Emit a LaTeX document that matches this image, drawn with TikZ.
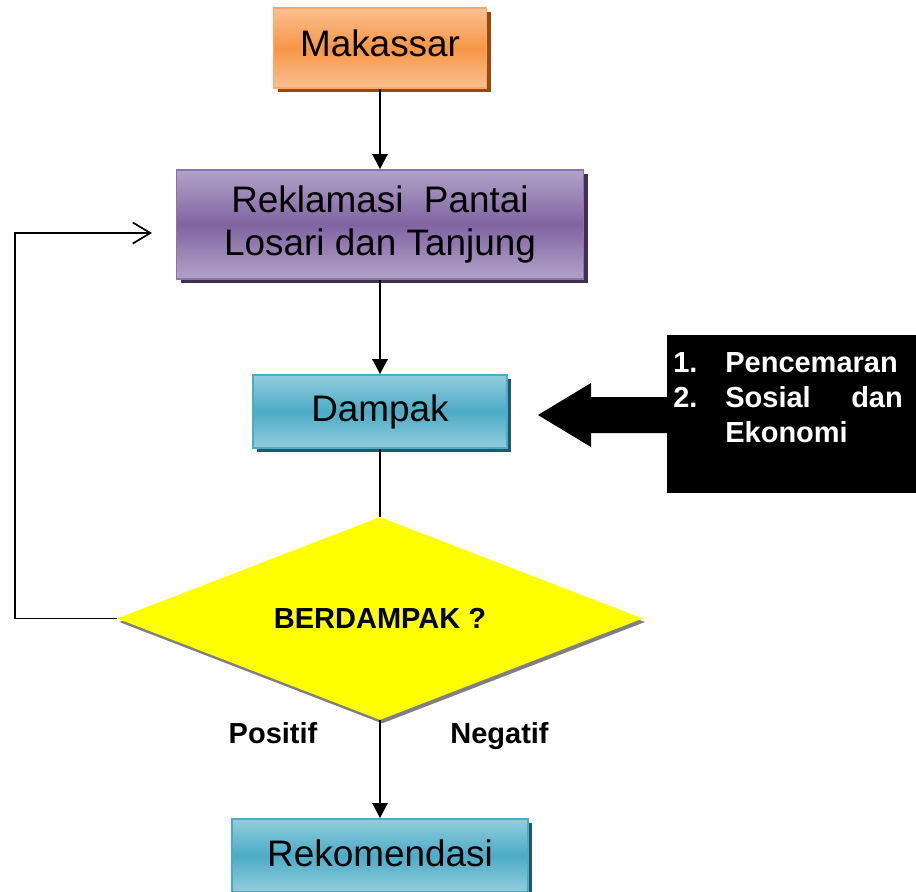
\documentclass[tikz,border=0pt]{standalone}
\usepackage{fontspec}
\setmainfont{Liberation Sans}
\usetikzlibrary{shapes.geometric,shadows,arrows.meta}

\definecolor{oranyeTua}{HTML}{F79646}
\definecolor{oranyeMuda}{HTML}{FAC090}
\definecolor{oranyeGaris}{HTML}{F9A865}
\definecolor{oranyeBayang}{HTML}{984807}
\definecolor{unguTua}{HTML}{8064A2}
\definecolor{unguMuda}{HTML}{B3A2C7}
\definecolor{unguGaris}{HTML}{8D73AE}
\definecolor{unguBayang}{HTML}{3F3151}
\definecolor{biruTua}{HTML}{4BACC6}
\definecolor{biruMuda}{HTML}{93CDDD}
\definecolor{biruGaris}{HTML}{4BACC6}
\definecolor{biruBayang}{HTML}{215968}
\definecolor{kuning}{HTML}{FFFF00}

\tikzset{
  kotak/.style={rectangle, line width=1pt, inner sep=0pt, align=center,
    font=\fontsize{21}{24.5}\selectfont},
  kotakoranye/.style={kotak, draw=oranyeGaris, top color=oranyeMuda,
    bottom color=oranyeMuda, middle color=oranyeTua,
    drop shadow={shadow xshift=2.3pt, shadow yshift=-2.3pt, fill=oranyeBayang, opacity=1}},
  kotakungu/.style={kotak, draw=unguGaris, top color=unguMuda,
    bottom color=unguMuda, middle color=unguTua,
    drop shadow={shadow xshift=2.3pt, shadow yshift=-2.3pt, fill=unguBayang, opacity=1}},
  kotakbiru/.style={kotak, draw=biruGaris, top color=biruMuda,
    bottom color=biruMuda, middle color=biruTua,
    drop shadow={shadow xshift=2.3pt, shadow yshift=-2.3pt, fill=biruBayang, opacity=1}},
  keputusan/.style={diamond, aspect=2.6, fill=kuning, inner sep=0pt,
    minimum width=10.52cm, minimum height=4.06cm,
    font=\fontsize{16.5}{20}\bfseries\selectfont,
    drop shadow={shadow xshift=1.2pt, shadow yshift=-2pt, fill=black!50, opacity=1}},
  label/.style={font=\fontsize{16.5}{20}\bfseries\selectfont, inner sep=0pt},
  panah/.style={line width=1.4pt, -{Triangle[length=8.5pt,width=8.5pt]}},
  garis/.style={line width=1pt},
  balikpanah/.style={line width=1pt, -{Straight Barb[length=10pt,width=12pt,line width=1pt]}}
}

\begin{document}
\begin{tikzpicture}[x=0.02cm, y=-0.02cm]
  \clip (0,0) rectangle (916,892);

  % Draw boxes
  \node[kotakoranye, text depth=5.6pt, minimum width=4.26cm, minimum height=1.6cm] (mak) at (380,48) {Makassar};
  \node[kotakungu, minimum width=8.14cm, minimum height=2.18cm] (rek) at (380,224.5)
    {Reklamasi\ \ Pantai\\Losari dan Tanjung};
  \node[kotakbiru, minimum width=5.08cm, minimum height=1.46cm] (dam) at (380,411.5) {Dampak};
  \node[keputusan] (dia) at (380,618.5) {BERDAMPAK ?};
  \node[kotakbiru, text depth=3pt, minimum width=5.92cm, minimum height=1.46cm] (rekom) at (380,855.5) {Rekomendasi};

  % Draw black box with list
  \node[rectangle, fill=black, inner sep=0pt, anchor=north west,
    minimum width=4.98cm, minimum height=3.16cm] (efek) at (667,335) {};
  \node[label, text=white, anchor=base west] (daftar) at (673,372) {%
    \begin{tabular}[t]{@{}l@{}l@{}}
      \makebox[29.6pt][l]{1.} & Pencemaran\\
      \makebox[29.6pt][l]{2.} & \makebox[101pt]{Sosial\hfill dan}\\
       & Ekonomi
    \end{tabular}};

  % Draw block arrow
  \fill (667,397) -- (591,397) -- (591,383) -- (538,415) -- (591,447)
    -- (591,433) -- (667,433) -- cycle;

  % Draw connectors
  \foreach \a/\b in {mak/rek, rek/dam, dia/rekom}
    \draw[panah] (\a.south) -- (\b.north);
  \draw[garis] (dam.south) -- (dia.north);

  % Draw loop back
  \coordinate (balik) at (152,233);
  \draw[balikpanah] (dia.west) -| (15,233) -- (balik);

  % Draw labels
  \node[label, anchor=base] (pos) at (273,743) {Positif};
  \node[label, anchor=base] (neg) at (499.5,743) {Negatif};
\end{tikzpicture}
\end{document}
